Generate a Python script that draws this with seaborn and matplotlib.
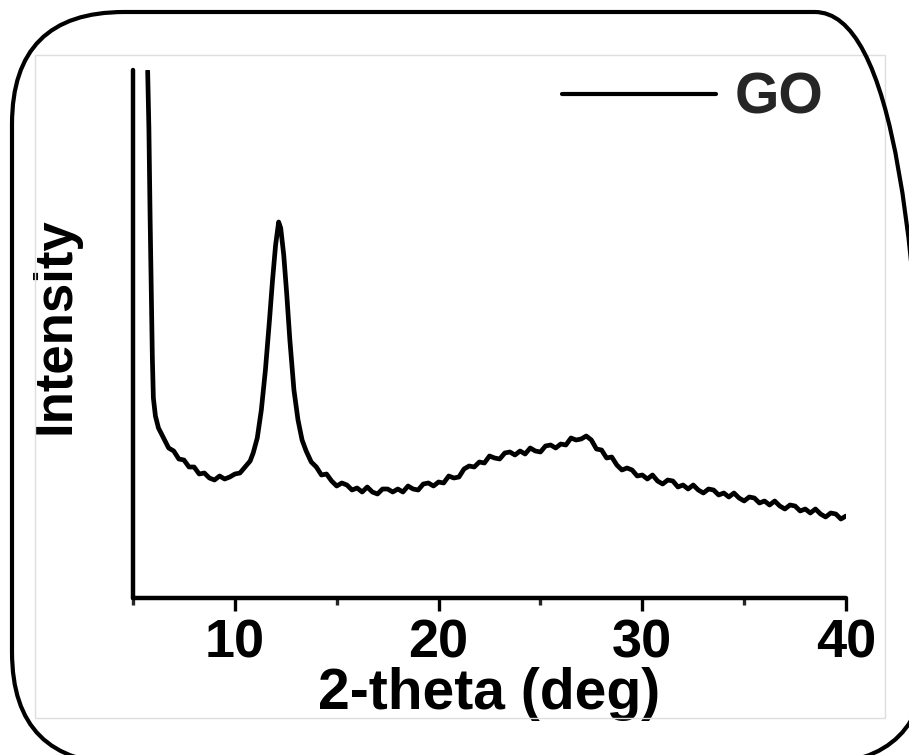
import matplotlib
matplotlib.use("Agg")
import matplotlib.pyplot as plt
from matplotlib.patches import FancyBboxPatch, Rectangle
from matplotlib.ticker import MultipleLocator
import seaborn as sns
import pandas as pd

# ---- data (intensity in arbitrary units) ----
two_theta = [5.72, 5.78, 5.84, 5.90, 5.95, 6.00, 6.10, 6.25, 6.50, 6.75, 7.00, 7.25,
             7.50, 7.75, 8.00, 8.25, 8.50, 8.75, 9.00, 9.25, 9.50, 9.75, 10.00, 10.25,
             10.50, 10.75, 10.90, 11.10, 11.30, 11.50, 11.70, 11.85, 12.00, 12.15,
             12.25, 12.40, 12.55, 12.70, 12.90, 13.10, 13.30,
             13.50, 13.75, 14.00, 14.25, 14.50, 14.75, 15.00, 15.25, 15.50, 15.75,
             16.00, 16.25, 16.50, 16.75, 17.00, 17.25, 17.50, 17.75, 18.00, 18.25,
             18.50, 18.75, 19.00, 19.25, 19.50, 19.75, 20.00, 20.25, 20.50, 20.75,
             21.00, 21.25, 21.50, 21.75, 22.00, 22.25, 22.50, 22.75, 23.00, 23.25,
             23.50, 23.75, 24.00, 24.25, 24.50, 24.75, 25.00, 25.25, 25.50, 25.75,
             26.00, 26.25, 26.50, 26.75, 27.00, 27.25, 27.50, 27.75, 28.00, 28.25,
             28.50, 28.75, 29.00, 29.25, 29.50, 29.75, 30.00, 30.25, 30.50, 30.75,
             31.00, 31.25, 31.50, 31.75, 32.00, 32.25, 32.50, 32.75, 33.00, 33.25,
             33.50, 33.75, 34.00, 34.25, 34.50, 34.75, 35.00, 35.25, 35.50, 35.75,
             36.00, 36.25, 36.50, 36.75, 37.00, 37.25, 37.50, 37.75, 38.00, 38.25,
             38.50, 38.75, 39.00, 39.25, 39.50, 39.75, 40.00]
intensity = [527, 470, 380, 300, 240, 200, 182, 170, 160, 150, 147, 139,
             138, 131, 131, 124, 125, 120, 118, 122, 119, 121, 124, 125,
             131, 137, 145, 160, 188, 228, 278, 318, 353, 376,
             370, 343, 303, 258, 208, 178, 158,
             147, 136, 131, 123, 124, 117, 112, 115, 113, 108,
             110, 106, 111, 106, 104, 109, 109, 106, 109, 106,
             112, 109, 108, 114, 115, 112, 116, 115, 122, 120,
             121, 129, 132, 131, 136, 135, 142, 140, 139, 145,
             146, 143, 147, 144, 150, 147, 146, 152, 153, 150,
             154, 153, 160, 158, 159, 162, 158, 149, 148, 140,
             141, 133, 128, 130, 128, 122, 123, 119, 123, 117,
             114, 118, 117, 111, 113, 109, 113, 108, 105, 109,
             108, 103, 105, 101, 105, 100, 97, 101, 100, 95,
             97, 93, 97, 92, 89, 93, 92, 87, 89, 85,
             89, 84, 81, 85, 84, 79, 82]
series_label = "GO"
x_ticks = [10, 20, 30, 40]
x_label = "2-theta (deg)"
y_label = "Intensity"

df = pd.DataFrame({"two_theta": two_theta, "intensity": intensity})

sns.set_style("ticks")
plt.rcParams["font.family"] = ["Liberation Sans", "DejaVu Sans"]
plt.rcParams["font.weight"] = "bold"

W, H = 909, 755
fig = plt.figure(figsize=(W / 100, H / 100), dpi=100)
ax = fig.add_axes([133 / W, 1 - 598 / H, (846 - 133) / W, (598 - 70) / H])

sns.lineplot(data=df, x="two_theta", y="intensity", ax=ax, color="black",
             linewidth=3.4, label=series_label, sort=False)

ax.set_xlim(5, 40)
ax.set_ylim(0, 528)
ax.set_xticks(x_ticks)
ax.xaxis.set_minor_locator(MultipleLocator(5))
ax.set_yticks([])
ax.tick_params(axis="x", which="major", direction="out", length=9, width=2.4,
               pad=6, labelsize=39, colors="black")
ax.tick_params(axis="x", which="minor", direction="out", length=5, width=2.4)
for lab in ax.get_xticklabels():
    lab.set_fontweight("bold")

for side in ["top", "right"]:
    ax.spines[side].set_visible(False)
for side in ["left", "bottom"]:
    ax.spines[side].set_linewidth(3.2)
    ax.spines[side].set_color("black")
    ax.spines[side].set_capstyle("round")

ax.set_xlabel(x_label, fontsize=41, fontweight="bold", color="black")
ax.set_ylabel(y_label, fontsize=38, fontweight="bold", color="black")
ax.xaxis.set_label_coords(0.5, -0.131)
ax.yaxis.set_label_coords(-0.074, 0.515)

leg = ax.legend(loc="center right", bbox_to_anchor=(1.0, 0.946), frameon=False,
                handlelength=2.7, handletextpad=0.33, borderaxespad=0,
                prop={"size": 41, "weight": "bold"})
for line in leg.get_lines():
    line.set_linewidth(3.0)

# light gray inner frame and rounded outer border (pixel geometry)
fig.add_artist(Rectangle((0.35, (H - 718) / 100), (885 - 35) / 100, (718 - 55) / 100,
                         transform=fig.dpi_scale_trans, fill=False,
                         edgecolor="#dedede", linewidth=1.0, clip_on=False))
left_px, top_px, right_px, bottom_px = 12, 12, 927, 764
fig.add_artist(FancyBboxPatch((left_px / 100, (H - bottom_px) / 100),
                              (right_px - left_px) / 100, (bottom_px - top_px) / 100,
                              boxstyle="round,pad=0,rounding_size=1.12",
                              transform=fig.dpi_scale_trans, fill=False,
                              edgecolor="black", linewidth=3.0, clip_on=False))

fig.savefig("out.png", dpi=100, facecolor="white")
